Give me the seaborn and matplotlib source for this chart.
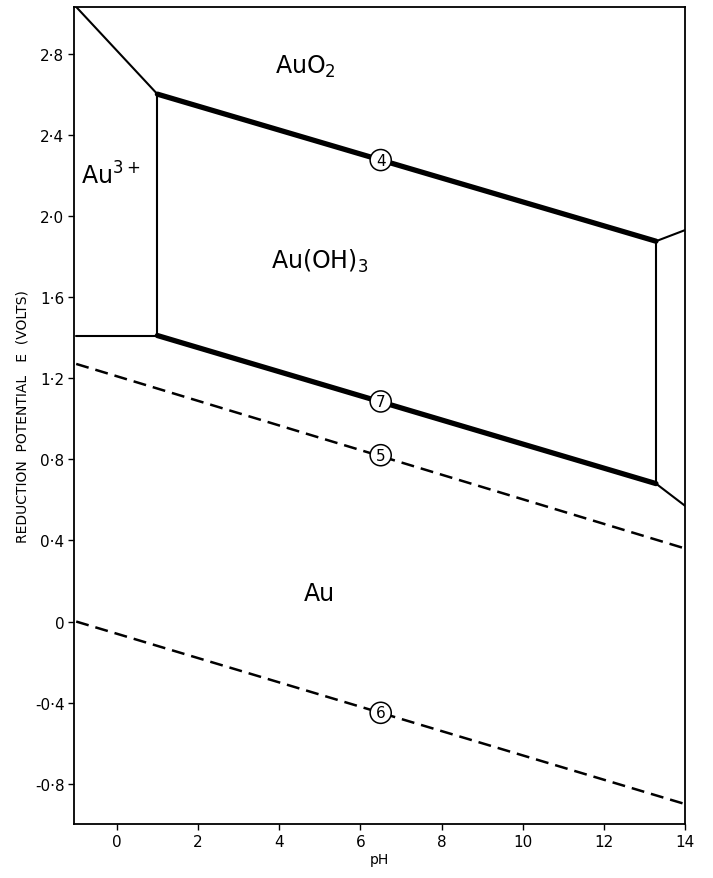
import matplotlib
matplotlib.use("Agg")
import matplotlib.pyplot as plt
import seaborn as sns

sns.set_theme(style="white")
plt.rcParams["font.family"] = ["DejaVu Sans"]
plt.rcParams.update({
    "text.color": "black",
    "axes.labelcolor": "black",
    "xtick.color": "black",
    "ytick.color": "black",
})

# Phase boundaries (pH, E in volts)
au3_auo2_ph = [-1.0, 1.0]
au3_auo2_e = [3.03, 2.60]
line4_ph = [1.0, 13.28]
line4_e = [2.60, 1.875]
auoh_right_top_ph = [13.28, 14.0]
auoh_right_top_e = [1.875, 1.93]
au3_auoh_ph = [1.0, 1.0]
au3_auoh_e = [2.60, 1.41]
au3_au_ph = [-1.0, 1.0]
au3_au_e = [1.41, 1.41]
line7_ph = [1.0, 13.28]
line7_e = [1.41, 0.68]
auoh_right_ph = [13.28, 13.28]
auoh_right_e = [1.875, 0.68]
auoh_right_bot_ph = [13.28, 14.0]
auoh_right_bot_e = [0.68, 0.57]
# Water stability lines
line5_ph = [-1.0, 14.0]
line5_e = [1.27, 0.36]
line6_ph = [-1.0, 14.0]
line6_e = [0.0, -0.90]

# Line markers (label, pH, E)
marker_labels = ["4", "7", "5", "6"]
marker_ph = [6.5, 6.5, 6.5, 6.5]
marker_e = [2.275, 1.085, 0.82, -0.45]

# Region names
region_names = ["AuO$_2$", "Au$^{3+}$", "Au(OH)$_3$", "Au"]
region_ph = [4.65, -0.15, 5.0, 5.0]
region_e = [2.74, 2.20, 1.78, 0.14]

y_ticks = [2.8, 2.4, 2.0, 1.6, 1.2, 0.8, 0.4, 0.0, -0.4, -0.8]
y_tick_labels = ["2·8", "2·4", "2·0", "1·6", "1·2", "0·8", "0·4", "0", "-0·4", "-0·8"]
x_ticks = [0, 2, 4, 6, 8, 10, 12, 14]

fig = plt.figure(figsize=(7.13, 8.79), dpi=100)
ax = fig.add_axes([0.104, 0.061, 0.857, 0.930])

thin = [
    (au3_auo2_ph, au3_auo2_e),
    (auoh_right_top_ph, auoh_right_top_e),
    (au3_auoh_ph, au3_auoh_e),
    (au3_au_ph, au3_au_e),
    (auoh_right_ph, auoh_right_e),
    (auoh_right_bot_ph, auoh_right_bot_e),
]
for xs, ys in thin:
    sns.lineplot(x=xs, y=ys, ax=ax, color="black", linewidth=1.5, sort=False,
                 estimator=None)

for xs, ys in [(line4_ph, line4_e), (line7_ph, line7_e)]:
    sns.lineplot(x=xs, y=ys, ax=ax, color="black", linewidth=3.8, sort=False,
                 estimator=None, solid_capstyle="round")

for xs, ys in [(line5_ph, line5_e), (line6_ph, line6_e)]:
    l = sns.lineplot(x=xs, y=ys, ax=ax, color="black", linewidth=1.8,
                     sort=False, estimator=None)
    l.lines[-1].set_dashes([5.2, 2.8])

for lab, px, pe in zip(marker_labels, marker_ph, marker_e):
    ax.text(px, pe, lab, ha="center", va="center", fontsize=11, zorder=5,
            bbox=dict(boxstyle="circle,pad=0.2", fc="white", ec="black", lw=1.1))

for name, px, pe in zip(region_names, region_ph, region_e):
    ax.text(px, pe, name, ha="center", va="center", fontsize=17, color="black")

ax.set_xlim(-1.05, 14.0)
ax.set_ylim(-1.0, 3.03)
ax.set_xticks(x_ticks)
ax.set_xticklabels([str(t) for t in x_ticks], fontsize=11)
ax.set_yticks(y_ticks)
ax.set_yticklabels(y_tick_labels, fontsize=11)
ax.tick_params(axis="both", direction="out", length=4, width=1, color="black",
               left=True, bottom=True, pad=3)
ax.set_xlabel("pH", fontsize=10, labelpad=2)
ax.set_ylabel("REDUCTION  POTENTIAL   E  (VOLTS)", fontsize=10, labelpad=4)
for s in ax.spines.values():
    s.set_color("black")
    s.set_linewidth(1.3)
ax.grid(False)

fig.savefig("out.png", dpi=100)
